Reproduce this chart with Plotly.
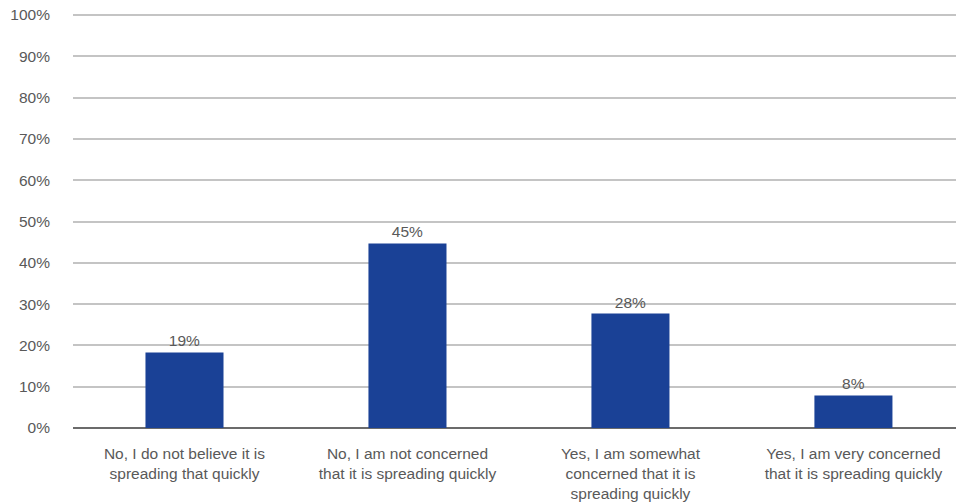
import plotly.graph_objects as go

categories = [
    "No, I do not believe it is<br>spreading that quickly",
    "No, I am not concerned<br>that it is spreading quickly",
    "Yes, I am somewhat<br>concerned that it is<br>spreading quickly",
    "Yes, I am very concerned<br>that it is spreading quickly",
]
values = [18.3, 44.7, 27.7, 7.9]
labels = ["19%", "45%", "28%", "8%"]
y_ticks = [0, 10, 20, 30, 40, 50, 60, 70, 80, 90, 100]
y_tick_text = [f"{v}%" for v in y_ticks]

font_family = "Liberation Sans, Arial, sans-serif"
text_color = "#595959"
fs = 15.5

fig = go.Figure(
    go.Bar(
        x=list(range(len(categories))),
        y=values,
        text=labels,
        textposition="outside",
        cliponaxis=False,
        textfont=dict(family=font_family, size=fs, color=text_color),
        marker=dict(color="#1a4196", line=dict(width=0)),
        width=0.35,
    )
)

fig.update_layout(
    width=956,
    height=503,
    margin=dict(l=73, r=0, t=13.4, b=74.7),
    paper_bgcolor="white",
    plot_bgcolor="white",
    showlegend=False,
    font=dict(family=font_family, size=fs, color=text_color),
    xaxis=dict(
        range=[-0.5, 3.46],
        tickmode="array",
        tickvals=list(range(len(categories))),
        ticktext=categories,
        showgrid=False,
        zeroline=False,
        showline=False,
        ticks="",
        ticklabelstandoff=14,
        tickfont=dict(family=font_family, size=fs, color=text_color),
        automargin=False,
    ),
    yaxis=dict(
        range=[0, 100.5],
        tickmode="array",
        tickvals=y_ticks,
        ticktext=y_tick_text,
        showgrid=True,
        gridcolor="#c4c4c4",
        gridwidth=2,
        zeroline=True,
        zerolinecolor="#6b6b6b",
        zerolinewidth=2,
        showline=False,
        ticks="",
        ticklabelstandoff=22,
        ticklabeloverflow="allow",
        tickfont=dict(family=font_family, size=fs, color=text_color),
        automargin=False,
    ),
)

fig.write_html(
    "out.html",
    config={"displayModeBar": False},
    post_script="document.body.style.margin='0';document.body.style.overflow='hidden';",
)
